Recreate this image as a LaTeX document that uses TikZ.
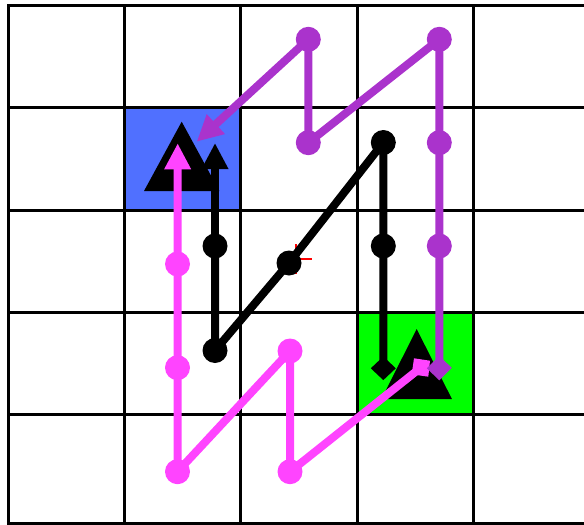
\documentclass[tikz,border=0pt]{standalone}
\usetikzlibrary{arrows.meta}
\definecolor{cellblue}{RGB}{80,112,255}
\definecolor{cellgreen}{RGB}{0,255,0}
\definecolor{pk}{RGB}{255,68,255}
\definecolor{pu}{RGB}{170,51,204}
\begin{document}
\begin{tikzpicture}[x=1pt,y=-1pt,
  gridline/.style={line width=3pt,black,line cap=rect},
  pathline/.style={line width=8pt,line join=round},
  dot/.style={circle,inner sep=0pt,minimum size=25pt,fill=#1},
  tip/.style={-{Triangle[length=26pt,width=25pt]}}]
\useasboundingbox (0,0) rectangle (584,525);
\clip (0,0) rectangle (584,525);
% coloured cells
\fill[cellblue] (124,107) rectangle (240,210);
\fill[cellgreen] (357,312) rectangle (473,414);
% grid
\foreach \x in {8,124,240,357,473} \draw[gridline] (\x,5) -- (\x,523);
\foreach \y in {5,107,210,312,414,523} \draw[gridline] (8,\y) -- (600,\y);
% big triangles
\fill[black] (181.7,121.7) -- (144,191) -- (219.4,191) -- cycle;
\fill[black] (416.7,329) -- (381.5,399) -- (451.9,399) -- cycle;
% red cross
\draw[red,line width=1.8pt] (281,259) -- (311.5,259) (296,244) -- (296,274);
% coordinates
\coordinate (pkS) at (421,367.5);
\coordinate (pkT) at (177.7,143.3);
\coordinate (bkS) at (383.3,368.3);
\coordinate (bkT) at (215,143);
\coordinate (puS) at (439.3,368.3);
\coordinate (puT) at (196.7,141.7);
% pink path
\node[dot=pk] (p1) at (290,471.7) {};
\node[dot=pk] (p2) at (290,351) {};
\node[dot=pk] (p3) at (177.5,471.7) {};
\node[dot=pk] (p4) at (177.5,367.7) {};
\node[dot=pk] (p5) at (177.5,264) {};
\draw[pathline,pk] (pkS) -- (p1.center) -- (p2.center) -- (p3.center) -- (p4.center) -- (p5.center);
\draw[pathline,pk,tip] (p5.center) -- (pkT);
\fill[pk] (414,358.3) -- (430,360.7) -- (428.3,376.7) -- (411.7,374.3) -- cycle;
% black path
\node[dot=black] (b1) at (383.3,246) {};
\node[dot=black] (b2) at (383.3,142.5) {};
\node[dot=black] (b3) at (289,263) {};
\node[dot=black] (b4) at (215,350.5) {};
\node[dot=black] (b5) at (215,246) {};
\draw[pathline,black] (bkS) -- (b1.center) -- (b2.center) -- (b3.center) -- (b4.center) -- (b5.center);
\draw[pathline,black,tip] (b5.center) -- (bkT);
\fill[black] (370.8,368.3) -- (383.3,356.5) -- (395.8,368.3) -- (383.3,380.1) -- cycle;
% purple path
\node[dot=pu] (u1) at (439.3,246) {};
\node[dot=pu] (u2) at (439.3,142.7) {};
\node[dot=pu] (u3) at (439.3,39.3) {};
\node[dot=pu] (u4) at (308.3,142.7) {};
\node[dot=pu] (u5) at (308.3,39.3) {};
\draw[pathline,pu] (puS) -- (u1.center) -- (u2.center) -- (u3.center) -- (u4.center) -- (u5.center);
\draw[pathline,pu,tip] (u5.center) -- (puT);
\fill[pu] (426.8,368.3) -- (439.3,356) -- (451.8,367.8) -- (439.3,380.3) -- cycle;
\end{tikzpicture}
\end{document}
